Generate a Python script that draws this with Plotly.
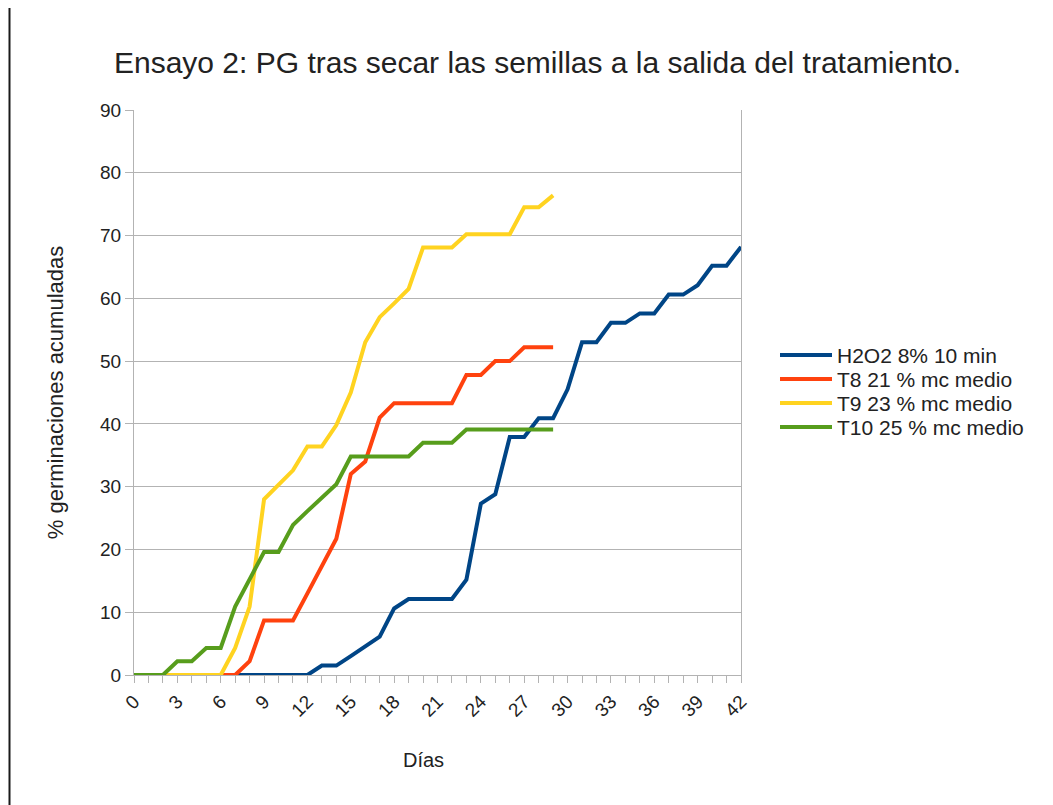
import plotly.graph_objects as go

# ---- data ----
days_h2o2 = [0, 1, 2, 3, 4, 5, 6, 7, 8, 9, 10, 11, 12, 13, 14, 15, 16, 17, 18, 19, 20,
             21, 22, 23, 24, 25, 26, 27, 28, 29, 30, 31, 32, 33, 34, 35, 36, 37, 38, 39, 40, 41, 42]
h2o2 = [0, 0, 0, 0, 0, 0, 0, 0, 0, 0, 0, 0, 0, 1.5, 1.5, 3.0, 4.5, 6.1, 10.6, 12.1, 12.1,
        12.1, 12.1, 15.2, 27.3, 28.8, 37.9, 37.9, 40.9, 40.9, 45.5, 53.0, 53.0, 56.1, 56.1,
        57.6, 57.6, 60.6, 60.6, 62.1, 65.2, 65.2, 68.2]

days_t = [0, 1, 2, 3, 4, 5, 6, 7, 8, 9, 10, 11, 12, 13, 14, 15, 16, 17, 18, 19, 20,
          21, 22, 23, 24, 25, 26, 27, 28, 29]
t8 = [0, 0, 0, 0, 0, 0, 0, 0, 2.2, 8.7, 8.7, 8.7, 13.0, 17.4, 21.7, 32.0, 34.0, 41.0, 43.3,
      43.3, 43.3, 43.3, 43.3, 47.8, 47.8, 50.0, 50.0, 52.2, 52.2, 52.2]
t9 = [0, 0, 0, 0, 0, 0, 0, 4.3, 10.9, 28.0, 30.4, 32.6, 36.4, 36.4, 39.8, 45.0, 53.0, 57.0,
      59.2, 61.5, 68.1, 68.1, 68.1, 70.2, 70.2, 70.2, 70.2, 74.5, 74.5, 76.4]
t10 = [0, 0, 0, 2.2, 2.2, 4.3, 4.3, 10.9, 15.2, 19.6, 19.6, 23.9, 26.1, 28.3, 30.4, 34.8,
       34.8, 34.8, 34.8, 34.8, 37.0, 37.0, 37.0, 39.1, 39.1, 39.1, 39.1, 39.1, 39.1, 39.1]

series_names = ["H2O2 8% 10 min", "T8 21 % mc medio", "T9 23 % mc medio", "T10 25 % mc medio"]
series_colors = ["#004586", "#ff420e", "#ffd320", "#579d1c"]

x_ticks = [0, 3, 6, 9, 12, 15, 18, 21, 24, 27, 30, 33, 36, 39, 42]
y_ticks = [0, 10, 20, 30, 40, 50, 60, 70, 80, 90]

title_text = "Ensayo 2: PG tras secar las semillas a la salida del tratamiento."
x_title = "Días"
y_title = "% germinaciones acumuladas"

FONT = "Liberation Sans, Arial, sans-serif"
GRID = "#b3b3b3"
TXT = "#222222"

fig = go.Figure()
xs = [days_h2o2, days_t, days_t, days_t]
ys = [h2o2, t8, t9, t10]
for x, y, name, col in zip(xs, ys, series_names, series_colors):
    fig.add_trace(go.Scatter(x=x, y=y, mode="lines", name=name,
                             line=dict(color=col, width=4), showlegend=False))

# plot area on screen: x 134..741, y 110..675 (page has 8px body margin)
def px_x(sx):
    return (sx - 134) / 607.0

def px_y(sy):
    return (675 - sy) / 565.0

shapes = [dict(type="line", xref="paper", yref="paper",
               x0=px_x(9.5), x1=px_x(9.5), y0=-0.25, y1=1.22,
               line=dict(color="#1a1a1a", width=2))]
annotations = []
row_y = [355, 379, 403, 427]
for name, col, sy in zip(series_names, series_colors, row_y):
    shapes.append(dict(type="line", xref="paper", yref="paper",
                       x0=px_x(780), x1=px_x(832), y0=px_y(sy), y1=px_y(sy),
                       line=dict(color=col, width=4)))
    annotations.append(dict(text=name, xref="paper", yref="paper",
                            x=px_x(835), y=px_y(sy), xanchor="left", yanchor="middle",
                            showarrow=False, font=dict(size=21, color=TXT, family=FONT)))
annotations.append(dict(text=x_title, xref="paper", yref="paper",
                        x=px_x(423), y=px_y(760), xanchor="center", yanchor="middle",
                        showarrow=False, font=dict(size=20, color=TXT, family=FONT)))

fig.update_layout(
    width=1053, height=805,
    paper_bgcolor="white", plot_bgcolor="white",
    margin=dict(l=126, r=320, t=102, b=138),
    font=dict(family=FONT, color=TXT),
    title=dict(text=title_text, x=529.5 / 1053, xanchor="center", xref="container",
               y=1 - 54 / 805, yanchor="middle", yref="container",
               font=dict(size=30, color=TXT, family=FONT)),
    showlegend=False,
    shapes=shapes,
    annotations=annotations,
)

fig.update_xaxes(
    range=[0, 42], tickvals=x_ticks, ticktext=[str(v) for v in x_ticks],
    tickangle=-45, tickfont=dict(size=19, color=TXT),
    showgrid=False, zeroline=False,
    showline=True, linecolor=GRID, linewidth=1,
    ticks="outside", ticklen=7, tickcolor=GRID, tickwidth=1,
    minor=dict(dtick=1, tick0=0, ticks="outside", ticklen=7, tickcolor=GRID, showgrid=False),
    automargin=False,
)
fig.update_yaxes(
    range=[0, 90], tickvals=y_ticks, tickfont=dict(size=19, color=TXT),
    showgrid=True, gridcolor=GRID, gridwidth=1, zeroline=False,
    showline=True, linecolor=GRID, linewidth=1, mirror=True,
    ticks="outside", ticklen=8, tickcolor=GRID,
    title=dict(text=y_title, font=dict(size=22, color=TXT), standoff=30),
    automargin=False,
)

fig.write_html("out.html")
